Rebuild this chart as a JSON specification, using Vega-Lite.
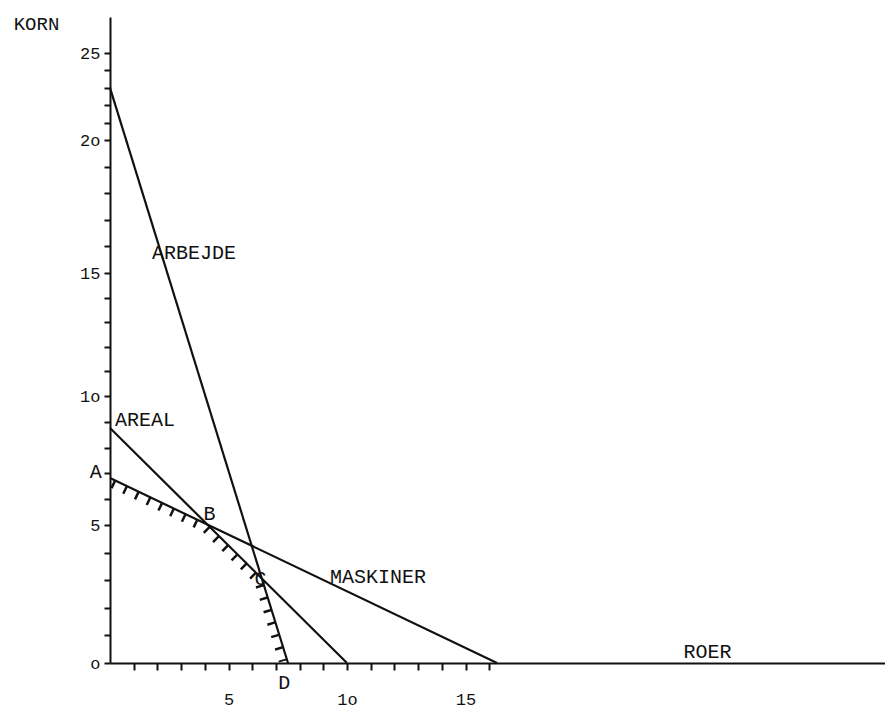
{
  "$schema": "https://vega.github.io/schema/vega-lite/v6.json",
  "autosize": "none",
  "padding": {"left": 110, "top": 17, "right": 0, "bottom": 48},
  "width": 775,
  "height": 646,
  "background": "white",
  "config": {
    "view": {"stroke": null},
    "font": "Liberation Mono",
    "axis": {"grid": false, "domainColor": "#111", "domainWidth": 2, "tickColor": "#111", "tickWidth": 2, "labelColor": "#111", "labelFont": "Liberation Mono", "labelFontSize": 17, "titleFont": "Liberation Mono", "titleColor": "#111", "labelOverlap": false, "labelBound": false, "labelFlush": false}
  },
  "datasets": {
    "lines": [
      {"series": "ARBEJDE", "x": 0, "y": 23.0},
      {"series": "ARBEJDE", "x": 7.51, "y": 0},
      {"series": "AREAL", "x": 0, "y": 8.76},
      {"series": "AREAL", "x": 10.0, "y": 0},
      {"series": "MASKINER", "x": 0, "y": 6.82},
      {"series": "MASKINER", "x": 16.33, "y": 0}
    ],
    "hatch": [
      {"x": 0.09, "y": 6.59},
      {"x": 4.0, "y": 4.88},
      {"x": 6.25, "y": 2.975},
      {"x": 7.29, "y": 0.06}
    ],
    "labels": [
      {"text": "ARBEJDE", "x": 1.77, "y": 15.75},
      {"text": "AREAL", "x": 0.21, "y": 9.07},
      {"text": "MASKINER", "x": 9.28, "y": 3.12},
      {"text": "ROER", "x": 24.2, "y": 0.4},
      {"text": "A", "x": -0.85, "y": 7.05},
      {"text": "B", "x": 3.95, "y": 5.43},
      {"text": "C", "x": 6.1, "y": 3.04},
      {"text": "D", "x": 7.1, "y": -0.72}
    ]
  },
  "layer": [
    {
      "data": {"name": "lines"},
      "mark": {"type": "line", "color": "#111", "strokeWidth": 2.2},
      "encoding": {
        "x": {"field": "x", "type": "quantitative", "scale": {"domain": [0, 32.7], "nice": false, "zero": false},
          "axis": {"title": null, "values": [1,2,3,4,5,6,7,8,9,10,11,12,13,14,15,16], "tickCount": 50, "tickSize": 7, "labelPadding": 21,
            "labelExpr": "datum.value == 5 ? '5' : datum.value == 10 ? '1o' : datum.value == 15 ? '15' : ''"}},
        "y": {"field": "y", "type": "quantitative",
          "scale": {"domain": [0, 5, 10, 15, 20, 25, 27], "range": [646, 508, 379, 256, 123, 36, 0], "nice": false, "zero": false},
          "axis": {"title": "KORN", "titleAngle": 0, "titleX": -74, "titleY": 6, "titleAlign": "center", "titleBaseline": "middle", "titleFontSize": 19, "titleFontWeight": "normal",
            "values": [0,1,2,3,4,5,6,7,8,9,10,11,12,13,14,15,16,17,18,19,20,21,22,23,24,25], "tickCount": 50, "tickSize": 6, "labelPadding": 4,
            "labelExpr": "datum.value == 0 ? 'o' : datum.value == 5 ? '5' : datum.value == 10 ? '1o' : datum.value == 15 ? '15' : datum.value == 20 ? '2o' : datum.value == 25 ? '25' : ''"}},
        "detail": {"field": "series"}
      }
    },
    {
      "data": {"name": "hatch"},
      "mark": {"type": "line", "color": "#111", "strokeWidth": 8, "strokeDash": [2.5, 10.5], "strokeCap": "butt"},
      "encoding": {
        "x": {"field": "x", "type": "quantitative"},
        "y": {"field": "y", "type": "quantitative"}
      }
    },
    {
      "data": {"name": "labels"},
      "mark": {"type": "text", "align": "left", "baseline": "middle", "fontSize": 20, "color": "#111", "clip": false},
      "encoding": {
        "x": {"field": "x", "type": "quantitative"},
        "y": {"field": "y", "type": "quantitative"},
        "text": {"field": "text"}
      }
    }
  ]
}
